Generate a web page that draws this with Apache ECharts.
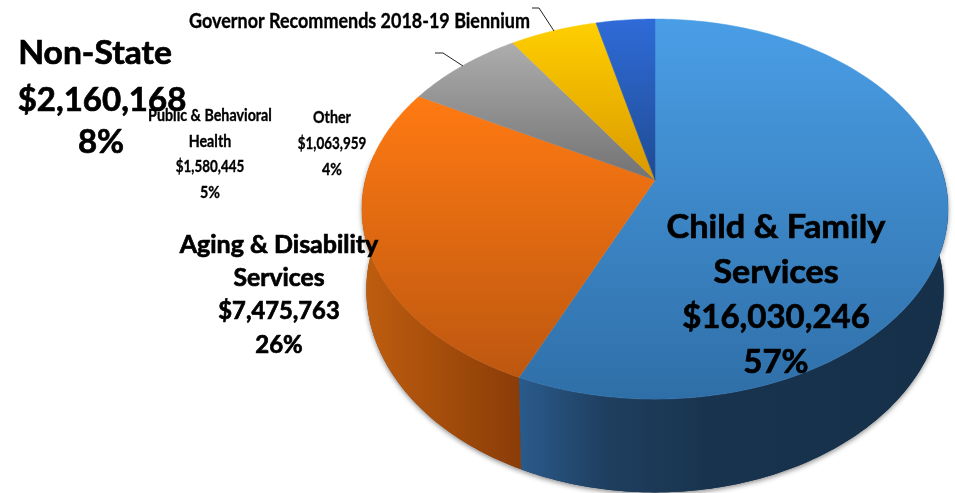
<!DOCTYPE html>
<html><head><meta charset="utf-8">
<style>html,body{margin:0;padding:0;background:#fff}#c{width:955px;height:493px}</style>
<script src="https://cdn.jsdelivr.net/npm/echarts@6/dist/echarts.min.js"></script>
</head><body><div id="c"></div>
<script>
const categories = ['Child & Family Services','Aging & Disability Services','Non-State','Public & Behavioral Health','Other'];
const amounts = [16030246,7475763,2160168,1580445,1063959];
const shares = [57,26,8,5,4];
const title = 'Governor Recommends 2018-19 Biennium';

const CX=655, CY=180, A=289.6, B=185.6, K=0.153, D=79, BOTTOM_SCALE=0.985;
const topFill=[['#4a9ee6','#2f6fa8'],['#ff7a12','#bd5710'],['#adadad','#727272'],['#ffcf00','#d99800'],['#2f6bd8','#1f4b92']];
const wallFill=[['#2a5b8c','#16304a'],['#bf5e0f','#8a3c08'],['#555','#555'],['#a70','#a70'],['#235','#235']];
const money=v=>'$'+v.toLocaleString('en-US');
const total=amounts.reduce((a,b)=>a+b,0);
function proj(phi){const u=Math.sin(phi),w=-Math.cos(phi),d=1-K*w;return {x:CX+A*u/d,y:CY+B*w/d,dy:D/d,w};}
const grad=(c,horiz)=>new echarts.graphic.LinearGradient(0,0,horiz?1:0,horiz?0:1,[{offset:0,color:c[0]},{offset:1,color:c[1]}]);

function renderItem(params,api){
  const i=params.dataIndex;
  let before=0;for(let j=0;j<i;j++)before+=amounts[j];
  const a0=before/total*2*Math.PI, a1=(before+api.value(0))/total*2*Math.PI;
  const n=Math.max(8,Math.ceil((a1-a0)*60));
  const pts=[[CX,CY]],children=[];
  const lim0=Math.PI/2-Math.asin(K), lim1=2*Math.PI-lim0;
  const wt=[],wb=[];
  for(let s=0;s<=n;s++){
    const a=a0+(a1-a0)*s/n,p=proj(a);pts.push([p.x,p.y]);
    if(a>=lim0&&a<=lim1){wt.push([p.x,p.y]);wb.push([CX+(p.x-CX)*BOTTOM_SCALE,p.y+p.dy]);}
  }
  if(wt.length>1){
    const c=wallFill[i];
    const wall=wt.concat(wb.slice().reverse());
    children.push({type:'polygon',z2:0,shape:{points:wall},
      style:{fill:c[1],shadowBlur:5,shadowColor:'rgba(0,0,0,0.45)',shadowOffsetY:2}});
    children.push({type:'polygon',z2:1,shape:{points:wall},
      style:{fill:i===0?new echarts.graphic.LinearGradient(1,0,0,0,[{offset:0,color:'#16304a'},{offset:0.55,color:'#18334d'},{offset:0.8,color:'#1f3f60'},{offset:1,color:'#2a5b8c'}]):grad(c,true)}});
  }
  children.push({type:'polygon',z2:2,shape:{points:pts},style:{fill:grad(topFill[i],false),stroke:grad(topFill[i],false),lineWidth:0.5}});
  return {type:'group',children};
}

const lines=[
 {t:'Non-State',cx:95,y:53,s:33,sx:1.02},
 {t:money(amounts[2]),cx:102,y:100,s:33,sx:1},
 {t:shares[2]+'%',cx:101,y:142,s:33,sx:1},
 {t:'Public & Behavioral',cx:210,y:116,s:17,sx:.84},
 {t:'Health',cx:210,y:142,s:17,sx:.84},
 {t:money(amounts[3]),cx:210,y:167,s:17,sx:.79},
 {t:shares[3]+'%',cx:210,y:193,s:17,sx:.84},
 {t:'Other',cx:332,y:118,s:17,sx:.84},
 {t:money(amounts[4]),cx:332,y:144,s:17,sx:.79},
 {t:shares[4]+'%',cx:332,y:170,s:17,sx:.84},
 {t:'Aging & Disability',cx:279,y:245,s:24,sx:1.04},
 {t:'Services',cx:279,y:278,s:24,sx:1.03},
 {t:money(amounts[1]),cx:279,y:311,s:24,sx:.99},
 {t:shares[1]+'%',cx:279,y:345,s:24,sx:1},
 {t:'Child & Family',cx:776,y:227,s:33,sx:1.04},
 {t:'Services',cx:776,y:272,s:33,sx:1.03},
 {t:money(amounts[0]),cx:776,y:317,s:33,sx:1},
 {t:shares[0]+'%',cx:776,y:362,s:33,sx:1},
 {t:title,cx:359.5,y:21,s:21,sx:.855}
];
const graphics=lines.map(l=>({type:'text',x:l.cx,y:l.y,scaleX:l.sx,z:10,
  style:{text:l.t,fontFamily:'Lato',fontWeight:'bold',fontSize:l.s,fill:'#000',stroke:'#000',lineWidth:l.s>=24?0.7:0.35,align:'center',verticalAlign:'middle'}}));
[[[435,53],[443,53],[463,66]],[[532,8],[539,8],[554,31]]].forEach(p=>graphics.push({type:'polyline',z:9,shape:{points:p},style:{stroke:'#222',lineWidth:1,fill:null}}));

const chart=echarts.init(document.getElementById('c'),null,{renderer:'canvas'});
chart.setOption({animation:false,graphic:graphics,
 series:[{type:'custom',coordinateSystem:'none',renderItem,silent:true,
  data:amounts.map((v,i)=>({name:categories[i],value:[v]}))}]});
</script></body></html>
